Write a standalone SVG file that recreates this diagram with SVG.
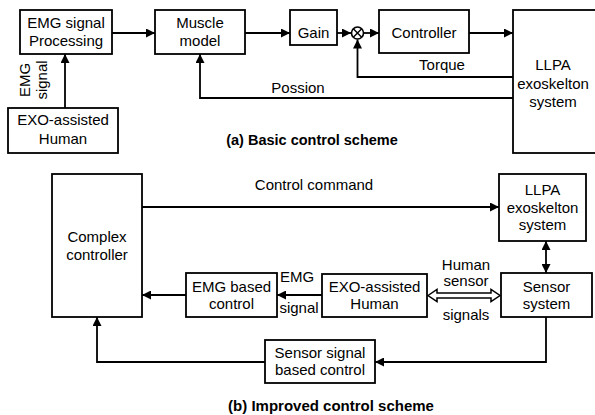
<svg xmlns="http://www.w3.org/2000/svg" width="595" height="415" viewBox="0 0 595 415">
<style>
.box{fill:#fff;stroke:#000;stroke-width:1.8}
.ln{fill:none;stroke:#000;stroke-width:1.8}
text{font-family:"Liberation Sans",Arial,sans-serif;font-size:15px;fill:#000;text-anchor:middle}
.ttl{font-weight:bold;font-size:14.5px}
</style>
<defs>
<marker id="ah" viewBox="0 0 10 10" refX="10" refY="5" markerWidth="9" markerHeight="9" markerUnits="userSpaceOnUse" orient="auto-start-reverse">
<path d="M0,0 L10,5 L0,10 Z" fill="#000"/>
</marker>
</defs>
<rect width="595" height="415" fill="#fff"/>

<g id="connectors">
<line class="ln" x1="112" y1="33" x2="155" y2="33" marker-end="url(#ah)"/>
<line class="ln" x1="245" y1="33" x2="290" y2="33" marker-end="url(#ah)"/>
<line class="ln" x1="337" y1="33" x2="351" y2="33" marker-end="url(#ah)"/>
<line class="ln" x1="364" y1="33" x2="379" y2="33" marker-end="url(#ah)"/>
<line class="ln" x1="469" y1="33" x2="513" y2="33" marker-end="url(#ah)"/>
<polyline class="ln" points="513,77 357.5,77 357.5,39.5" marker-end="url(#ah)"/>
<polyline class="ln" points="513,98 200,98 200,54" marker-end="url(#ah)"/>
<line class="ln" x1="65" y1="108" x2="65" y2="54" marker-end="url(#ah)"/>

<line class="ln" x1="142" y1="207" x2="499" y2="207" marker-end="url(#ah)"/>
<line class="ln" x1="546" y1="241" x2="546" y2="273" marker-start="url(#ah)" marker-end="url(#ah)"/>
<line class="ln" x1="322" y1="295" x2="277" y2="295" marker-end="url(#ah)"/>
<line class="ln" x1="186" y1="295" x2="142" y2="295" marker-end="url(#ah)"/>
<polyline class="ln" points="546,317 546,362 375,362" marker-end="url(#ah)"/>
<polyline class="ln" points="265,362 97,362 97,317" marker-end="url(#ah)"/>
<path d="M428,295.5 L437,289.5 L437,293 L491,293 L491,289.5 L500,295.5 L491,301.5 L491,298 L437,298 L437,301.5 Z" fill="#fff" stroke="#000" stroke-width="1.5" stroke-linejoin="miter"/>

<text x="442" y="70">Torque</text>
<text x="298" y="93">Possion</text>
<text transform="translate(30,80) rotate(-90)">EMG</text>
<text transform="translate(47,80) rotate(-90)">signal</text>
<text x="314" y="190">Control command</text>
<text x="297" y="282">EMG</text>
<text x="299" y="313">signal</text>
<text x="466" y="270">Human</text>
<text x="466" y="286">sensor</text>
<text x="466" y="320">signals</text>
</g>

<g id="emg-processing">
<rect class="box" x="20" y="10" width="92" height="44"/>
<text x="66" y="28">EMG signal</text>
<text x="66" y="46">Processing</text>
</g>
<g id="muscle-model">
<rect class="box" x="155" y="10" width="90" height="44"/>
<text x="200" y="28">Muscle</text>
<text x="200" y="46">model</text>
</g>
<g id="gain">
<rect class="box" x="290" y="10" width="47" height="35"/>
<text x="313.5" y="38">Gain</text>
</g>
<g id="sum">
<circle cx="357.5" cy="33" r="6" fill="#fff" stroke="#000" stroke-width="1.6"/>
<path d="M353.3,28.8 L361.7,37.2 M361.7,28.8 L353.3,37.2" stroke="#000" stroke-width="1.4"/>
</g>
<g id="controller">
<rect class="box" x="379" y="10" width="90" height="43"/>
<text x="424" y="38">Controller</text>
</g>
<g id="llpa-a">
<rect class="box" x="513" y="10" width="90" height="143"/>
<text x="553" y="70">LLPA</text>
<text x="553" y="89">exoskelton</text>
<text x="553" y="107">system</text>
</g>
<g id="exo-human-a">
<rect class="box" x="8" y="108" width="110" height="45"/>
<text x="63" y="125">EXO-assisted</text>
<text x="63" y="144">Human</text>
</g>
<text class="ttl" x="312" y="145">(a) Basic control scheme</text>

<g id="complex-controller">
<rect class="box" x="52" y="174" width="90" height="143"/>
<text x="97" y="242">Complex</text>
<text x="97" y="260">controller</text>
</g>
<g id="llpa-b">
<rect class="box" x="499" y="174" width="87" height="67"/>
<text x="542.5" y="195">LLPA</text>
<text x="542.5" y="213">exoskelton</text>
<text x="542.5" y="230">system</text>
</g>
<g id="sensor-system">
<rect class="box" x="501" y="273" width="91" height="44"/>
<text x="546.5" y="292">Sensor</text>
<text x="546.5" y="309">system</text>
</g>
<g id="exo-human-b">
<rect class="box" x="322" y="274" width="105" height="43"/>
<text x="374.5" y="292">EXO-assisted</text>
<text x="374.5" y="309">Human</text>
</g>
<g id="emg-control">
<rect class="box" x="186" y="273" width="91" height="44"/>
<text x="231.5" y="292">EMG based</text>
<text x="231.5" y="309">control</text>
</g>
<g id="sensor-control">
<rect class="box" x="265" y="340" width="110" height="43"/>
<text x="320" y="358">Sensor signal</text>
<text x="320" y="375">based control</text>
</g>
<text class="ttl" x="331" y="411" style="font-size:15px">(b) Improved control scheme</text>
</svg>
